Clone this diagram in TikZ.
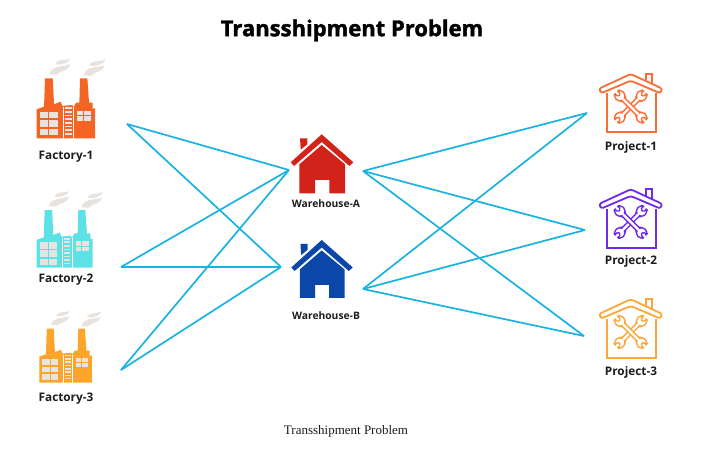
\documentclass[tikz,border=0pt]{standalone}
\usepackage{fontspec}
\setmainfont{Open Sans}
\newfontfamily\captionfont{Liberation Serif}
\newfontfamily\titlefont[BoldFeatures={FakeBold=1.6}]{Open Sans}
\usepackage{tikz}
\usetikzlibrary{calc}

\definecolor{linkblue}{HTML}{1AB2E2}
\definecolor{smokegrey}{HTML}{E9E3DF}
\definecolor{labelblack}{HTML}{1C1C1C}
\definecolor{factoryorange}{HTML}{F46524}
\definecolor{factorycyan}{HTML}{5CE1E6}
\definecolor{factoryamber}{HTML}{FBA52B}
\definecolor{wareredc}{HTML}{D2231A}
\definecolor{wareblue}{HTML}{0A47A8}
\definecolor{projorange}{HTML}{FA6E35}
\definecolor{projviolet}{HTML}{6E2BE8}
\definecolor{projamber}{HTML}{FBA83A}

\tikzset{
    link/.style={draw=linkblue, line width=1.7pt},
    lab/.style={font=\bfseries\fontsize{11.8}{13}\selectfont, text=labelblack, inner sep=0pt},
    warelab/.style={font=\bfseries\fontsize{10.3}{12}\selectfont, text=labelblack, inner sep=0pt},
}

% position, size, colour (drawn in units of a third of a pixel)
\newcommand{\drawfactory}[3]{
    \begin{scope}[shift={#1}, scale=#2/3, shift={(-50,-265)}]
        \fill[smokegrey] (88,72) .. controls (98,44) and (120,54) .. (150,42) .. controls (148,64) and (120,62) .. (110,74) -- cycle;
        \fill[smokegrey] (105,42) .. controls (115,24) and (132,34) .. (150,26) .. controls (150,38) and (132,42) .. (118,44) -- cycle;
        \fill[smokegrey] (190,76) .. controls (200,46) and (222,56) .. (254,46) .. controls (252,66) and (222,64) .. (212,78) -- cycle;
        \fill[smokegrey] (207,46) .. controls (218,28) and (235,38) .. (256,28) .. controls (256,40) and (236,46) .. (222,48) -- cycle;
        \fill[#3] (50,265) -- (50,178) -- (72,170) -- (75,85) -- (98,85) -- (102,163) -- (122,155) -- (127,168) -- (157,165) -- (160,172) -- (168,158) -- (178,158) -- (180,85) -- (202,85) -- (207,158) -- (218,158) -- (218,175) -- (225,175) -- (225,265) -- cycle;
        \draw[white, line width=0.4pt] (130,172) -- (130,265);
        \draw[white, line width=0.4pt] (160,172) -- (160,265);
        \foreach \y in {186,211,237} {
            \fill[smokegrey] (60,\y) rectangle (85,\y+19);
            \fill[smokegrey] (88,\y) rectangle (113,\y+19);
        }
        \foreach \y in {172,183,194,205,216,227,238,249} {
            \fill[smokegrey] (135,\y) rectangle (155,\y+5);
        }
        \foreach \y in {182,199} {
            \fill[smokegrey] (172,\y) rectangle (190,\y+14);
            \fill[smokegrey] (193,\y) rectangle (213,\y+14);
        }
    \end{scope}
}

% apex of the roof, size, colour
\newcommand{\drawhouse}[3]{
    \begin{scope}[shift={#1}, scale=#2/3, shift={(-155,0)}]
        \fill[#3] (90,12) -- (112,12) -- (112,30) -- (92,46) -- cycle;
        \fill[#3] (155,0) -- (250,84) -- (238,95) -- (155,23) -- (72,95) -- (62,84) -- cycle;
        \fill[#3] (88,90) -- (155,32) -- (225,90) -- (225,177) -- (178,177) -- (178,137) -- (135,137) -- (135,177) -- (88,177) -- cycle;
    \end{scope}
}

% one spanner, drawn lying along the x axis
\newcommand{\drawspanner}[2]{
    \draw[#2, line width=1.4pt, fill=white, rotate=#1, rounded corners=1.5pt, line join=round] (-32,-6) -- (32,-6) -- (33,-9) -- (40,-15) -- (52,-15) -- (60,-9) -- (60,-6) -- (48,-6) -- (48,6) -- (60,6) -- (60,9) -- (52,15) -- (40,15) -- (33,9) -- (32,6) -- (-32,6) -- (-33,9) -- (-40,15) -- (-52,15) -- (-60,9) -- (-60,6) -- (-48,6) -- (-48,-6) -- (-60,-6) -- (-60,-9) -- (-52,-15) -- (-40,-15) -- (-33,-9) -- cycle;
}

% apex of the roof, colour
\newcommand{\drawproject}[2]{
    \begin{scope}[shift={#1}, scale=1/3, shift={(-152,-42)}]
        \draw[#2, line width=1.8pt] (80,100) -- (80,217) -- (227,217) -- (227,100);
        \draw[#2, line width=1.8pt] (197,62) -- (197,42) -- (217,42) -- (217,75);
        \draw[#2, line width=1.8pt, fill=white, rounded corners=2.5pt, line join=round] (152,42) -- (247,86) -- (241,100) -- (152,62) -- (63,100) -- (57,86) -- cycle;
        \begin{scope}[shift={(152,140)}]
            \drawspanner{45}{#2}
            \drawspanner{-45}{#2}
        \end{scope}
    \end{scope}
}

\begin{document}
\begin{tikzpicture}[x=1pt, y=-1pt]
    \useasboundingbox (0,0) rectangle (713,450);

    \coordinate (F1) at (127,124);
    \coordinate (F2) at (121,267);
    \coordinate (F3) at (121,370);
    \coordinate (WA) at (289,170);
    \coordinate (WB) at (281,267);
    \coordinate (WAout) at (363,171);
    \coordinate (WBout) at (363,289);
    \coordinate (P1) at (587,113);
    \coordinate (P2) at (585,230);
    \coordinate (P3) at (584,336);

    \draw[link] (F1)--(WA);
    \draw[link] (F1)--(WB);
    \draw[link] (F2)--(WA);
    \draw[link] (F2)--(WB);
    \draw[link] (F3)--(WA);
    \draw[link] (F3)--(WB);

    \draw[link] (WAout)--(P1);
    \draw[link] (WAout)--(P2);
    \draw[link] (WAout)--(P3);
    \draw[link] (WBout)--(P1);
    \draw[link] (WBout)--(P2);
    \draw[link] (WBout)--(P3);

    \drawfactory{(36.7,138.3)}{1}{factoryorange}
    \drawfactory{(36.7,267.7)}{0.96}{factorycyan}
    \drawfactory{(39.3,382.7)}{0.9}{factoryamber}

    \drawhouse{(321.7,134.3)}{1}{wareredc}
    \drawhouse{(321.7,240)}{0.98}{wareblue}

    \drawproject{(630.7,74)}{projorange}
    \drawproject{(630.7,189.3)}{projviolet}
    \drawproject{(630.7,299.3)}{projamber}

    \node[lab] (F1label) at (66,157) {Factory-1};
    \node[lab] (F2label) at (66,280) {Factory-2};
    \node[lab] (F3label) at (66,399) {Factory-3};
    \node[warelab] (WAlabel) at (326,203.5) {Warehouse-A};
    \node[warelab] (WBlabel) at (326,316) {Warehouse-B};
    \node[lab] (P1label) at (631,147) {Project-1};
    \node[lab] (P2label) at (631,261) {Project-2};
    \node[lab] (P3label) at (631,372) {Project-3};

    \node[font=\titlefont\bfseries\fontsize{22}{26}\selectfont, text=black] (title) at (352,30.5) {Transshipment Problem};
    \node[font=\captionfont\fontsize{13}{15}\selectfont, text=labelblack] (caption) at (346,431) {Transshipment Problem};
\end{tikzpicture}
\end{document}
